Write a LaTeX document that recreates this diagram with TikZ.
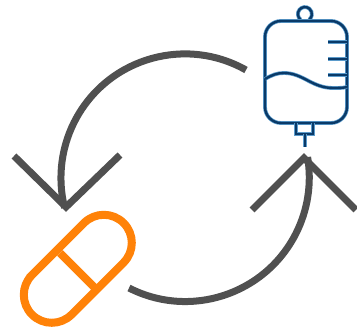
\documentclass[tikz,border=0pt]{standalone}
\usepackage{xcolor}
\usepackage{tikz}
\usetikzlibrary{calc}
\definecolor{cycle}{HTML}{505050}
\definecolor{pill}{HTML}{FF8208}
\definecolor{bagline}{HTML}{0A3A68}
\definecolor{baghalo}{HTML}{5B9BCB}
\tikzset{
  cycleline/.style={draw=cycle, line width=7pt},
  pillline/.style={draw=pill, line width=8pt},
  bagstroke/.style={draw=bagline, line width=2.4pt, preaction={draw=baghalo, line width=3.8pt}}
}

\begin{document}
\begin{tikzpicture}[x=1pt,y=1pt]
\path[use as bounding box] (0,0) rectangle (357,329);
\fill[white] (0,0) rectangle (357,329);

% cycle arrows
\coordinate (upperstart) at (246,259);
\coordinate (lowerstart) at (129,41);
\draw[cycleline] (upperstart) arc[start angle=60.5, end angle=194, radius=124];
\draw[cycleline] (lowerstart) arc[start angle=243, end angle=369.5, radius=124];
\draw[cycleline, line join=miter] (14,173) -- (66,122) -- (120,174);
\draw[cycleline, line join=miter] (252,119) -- (304,171) -- (356,119);

% pill
\draw[pillline] (32,54) -- (84,106)
  arc[start angle=135, end angle=-45, radius=28] -- (71.6,14.4)
  arc[start angle=-45, end angle=-225, radius=28] -- cycle;
\draw[pillline] (60,76) -- (95,41);

% infusion bag
\draw[bagstroke] (305,315) ++(-4.5,-5.5) arc[start angle=231, end angle=-51, radius=7];
\draw[bagstroke, rounded corners=16pt] (265,206) rectangle (347,308);
\foreach \y in {287,270,254}
  \draw[bagstroke] (328,\y) -- (347,\y);
\draw[bagstroke] (265,250) .. controls (272,254) and (277,256) .. (284,256)
  .. controls (303,256) and (312,241) .. (333,241) .. controls (339,241) and (343,241) .. (347,242);
\draw[bagstroke] (296,206) -- (296,195) -- (313,195) -- (313,206);
\draw[bagstroke] (305,195) -- (305,182);
\end{tikzpicture}
\end{document}
